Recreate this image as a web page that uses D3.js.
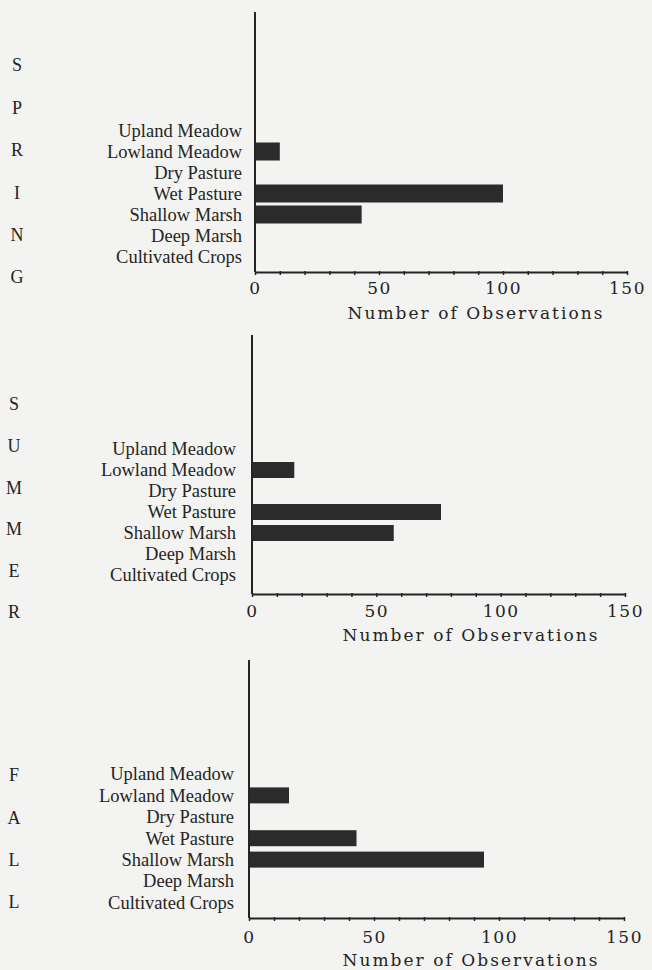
<!DOCTYPE html>
<html>
<head>
<meta charset="utf-8">
<script src="https://cdn.jsdelivr.net/npm/d3@7"></script>
<style>
  html, body { margin: 0; padding: 0; background: #f3f3f1; }
  svg { display: block; }
</style>
</head>
<body>
<svg id="chart" width="652" height="970"></svg>
<script>
// ---- data ----
const categories = ["Upland Meadow", "Lowland Meadow", "Dry Pasture", "Wet Pasture", "Shallow Marsh", "Deep Marsh", "Cultivated Crops"];
const springValues = [0, 10, 0, 100, 43, 0, 0];
const summerValues = [0, 17, 0, 76, 57, 0, 0];
const fallValues   = [0, 16, 0, 43, 94, 0, 0];
const seasonLetters = {
  spring: ["S", "P", "R", "I", "N", "G"],
  summer: ["S", "U", "M", "M", "E", "R"],
  fall:   ["F", "A", "L", "L"]
};
const xTickValues = [0, 10, 20, 30, 40, 50, 60, 70, 80, 90, 100, 110, 120, 130, 140, 150];
const xTickLabels = [0, 50, 100, 150];
const xTitle = "Number of Observations";

// ---- layout ----
const panels = [
  { values: springValues, letters: seasonLetters.spring,
    x0: 255, x1: 627, top: 12, axisY: 272, row0: 130.5, step: 21, barH: 18,
    labelRight: 242, letterX: 17, letter0: 65, letterStep: 42.4,
    tickDy: 18, titleX: 475, titleY: 313 },
  { values: summerValues, letters: seasonLetters.summer,
    x0: 252, x1: 625, top: 335, axisY: 594, row0: 449, step: 21, barH: 16,
    labelRight: 236, letterX: 14, letter0: 404, letterStep: 41.6,
    tickDy: 19, titleX: 470, titleY: 635 },
  { values: fallValues, letters: seasonLetters.fall,
    x0: 249, x1: 624, top: 660, axisY: 918, row0: 774, step: 21.4, barH: 16,
    labelRight: 234, letterX: 14, letter0: 775, letterStep: 42.2,
    tickDy: 21, titleX: 470, titleY: 960 }
];

const svg = d3.select("#chart");
const ink = "#242424";
const serif = "'Liberation Serif', 'Times New Roman', serif";
const typewriter = "'DejaVu Serif', serif";

panels.forEach(p => {
  const g = svg.append("g");
  const x = d3.scaleLinear().domain([0, 150]).range([p.x0, p.x1]);
  const y = d3.scalePoint().domain(categories)
    .range([p.row0, p.row0 + (categories.length - 1) * p.step]);

  // bars
  g.selectAll("rect.bar").data(categories.map((c, i) => ({ c, v: p.values[i] })).filter(d => d.v > 0))
    .enter().append("rect")
    .attr("class", "bar")
    .attr("x", x(0))
    .attr("y", d => y(d.c) - p.barH / 2)
    .attr("width", d => x(d.v) - x(0))
    .attr("height", p.barH)
    .attr("fill", "#2b2b2b");

  // category labels
  g.selectAll("text.cat").data(categories).enter().append("text")
    .attr("class", "cat")
    .attr("x", p.labelRight)
    .attr("y", d => y(d))
    .attr("dy", "0.35em")
    .attr("text-anchor", "end")
    .attr("font-family", serif)
    .attr("font-size", 18.5)
    .attr("fill", ink)
    .text(d => d);

  // season letters
  g.selectAll("text.letter").data(p.letters).enter().append("text")
    .attr("class", "letter")
    .attr("x", p.letterX)
    .attr("y", (d, i) => p.letter0 + i * p.letterStep)
    .attr("dy", "0.35em")
    .attr("text-anchor", "middle")
    .attr("font-family", serif)
    .attr("font-size", 18)
    .attr("fill", ink)
    .text(d => d);

  // vertical axis line
  g.append("line")
    .attr("x1", x(0)).attr("x2", x(0))
    .attr("y1", p.top).attr("y2", p.axisY)
    .attr("stroke", ink).attr("stroke-width", 2);

  // x axis
  const axis = d3.axisBottom(x)
    .tickValues(xTickValues)
    .tickSizeInner(3)
    .tickSizeOuter(0)
    .tickPadding(p.tickDy - 11)
    .tickFormat(d => xTickLabels.includes(d) ? d : "");
  const ag = g.append("g").attr("transform", `translate(0,${p.axisY})`).call(axis);
  ag.select(".domain").attr("stroke", ink).attr("stroke-width", 2);
  ag.selectAll(".tick line").attr("stroke", ink).attr("stroke-width", 1.5).attr("y1", -1);
  ag.selectAll(".tick text")
    .attr("font-family", typewriter)
    .attr("font-size", 17)
    .attr("letter-spacing", "1.5px")
    .attr("fill", ink);

  // axis title
  g.append("text")
    .attr("x", p.titleX)
    .attr("y", p.titleY)
    .attr("dy", "0.35em")
    .attr("text-anchor", "middle")
    .attr("font-family", typewriter)
    .attr("font-size", 17)
    .attr("textLength", 255)
    .attr("lengthAdjust", "spacing")
    .attr("fill", ink)
    .text(xTitle);
});
</script>
</body>
</html>
